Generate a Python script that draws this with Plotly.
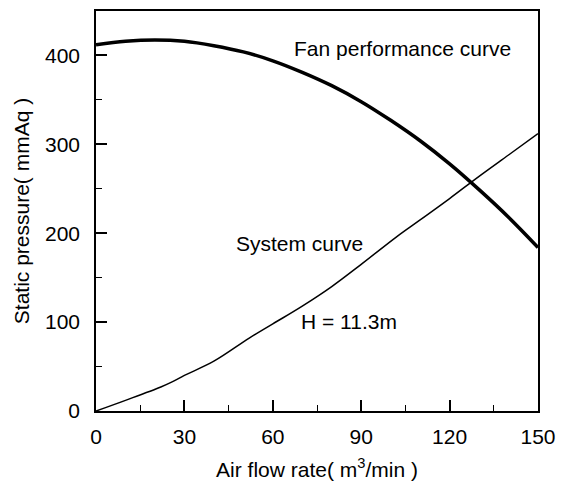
import plotly.graph_objects as go

fan_x = [0, 10, 20, 30, 40, 50, 60, 70, 80, 90, 100, 110, 120, 130, 140, 150]
fan_y = [412, 416, 417.5, 416, 411, 404, 394, 381, 366, 348, 327, 304, 278, 249, 218, 184]

sys_x = [0, 10, 22, 26, 30, 40, 52, 60, 70, 80, 90, 102, 110, 120, 130, 140, 150]
sys_y = [0, 12, 27, 33, 40, 56, 82, 98, 118, 140, 165, 196, 215, 239, 264, 288, 312]

x_ticks = [0, 30, 60, 90, 120, 150]
y_ticks = [0, 100, 200, 300, 400]

FONT = "Liberation Sans, Arial, sans-serif"
FS = 21

fig = go.Figure()
fig.add_trace(go.Scatter(x=fan_x, y=fan_y, mode="lines", line=dict(color="black", width=3.5, shape="spline"),
                         showlegend=False))
fig.add_trace(go.Scatter(x=sys_x, y=sys_y, mode="lines", line=dict(color="black", width=1.5, shape="spline"),
                         showlegend=False))

fig.add_annotation(x=104, y=408, text="Fan performance curve", showarrow=False,
                   font=dict(size=FS, color="black", family=FONT))
fig.add_annotation(x=69, y=189, text="System curve", showarrow=False,
                   font=dict(size=FS, color="black", family=FONT))
fig.add_annotation(x=86, y=101, text="H = 11.3m", showarrow=False,
                   font=dict(size=FS, color="black", family=FONT))

fig.update_layout(
    width=565, height=482,
    margin=dict(l=96, r=27, t=11, b=71),
    paper_bgcolor="white", plot_bgcolor="white",
    font=dict(family=FONT, color="black", size=FS),
    xaxis=dict(range=[0, 150], tickvals=x_ticks, ticks="inside", ticklen=11, tickwidth=1.5,
               tickcolor="black", showgrid=False, zeroline=False, showline=True, linecolor="black",
               linewidth=1.5, mirror=True, tickfont=dict(size=FS), ticklabelstandoff=6, automargin=False,
               minor=dict(dtick=15, ticks="inside", ticklen=6, tickwidth=1.2, tickcolor="black", showgrid=False),
               title=dict(text="Air flow rate( m<sup>3</sup>/min )", font=dict(size=FS), standoff=15)),
    yaxis=dict(range=[0, 450], tickvals=y_ticks, ticks="inside", ticklen=11, tickwidth=1.5,
               tickcolor="black", showgrid=False, zeroline=False, showline=True, linecolor="black",
               linewidth=1.5, mirror=True, tickfont=dict(size=FS), ticklabelstandoff=10, automargin=False,
               minor=dict(dtick=50, ticks="inside", ticklen=6, tickwidth=1.2, tickcolor="black", showgrid=False),
               title=dict(text="Static pressure( mmAq )", font=dict(size=FS), standoff=10)),
)

fig.write_html("out.html")
